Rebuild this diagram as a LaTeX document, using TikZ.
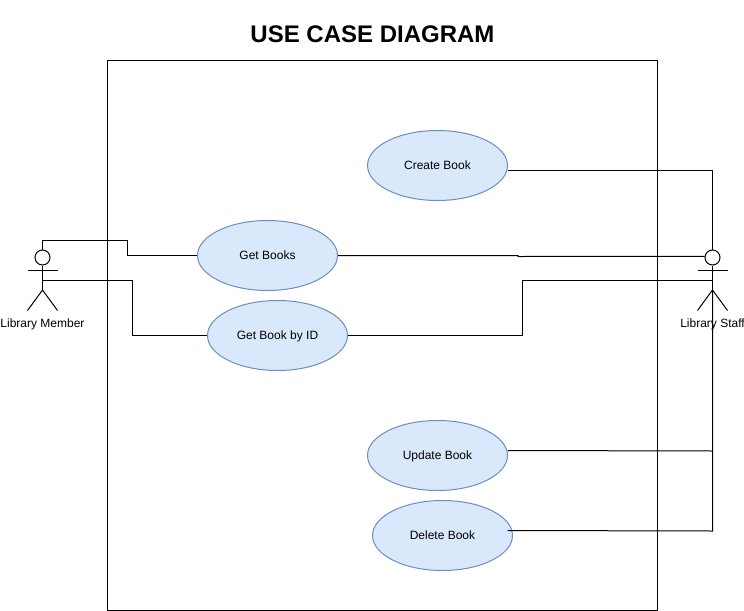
\documentclass[tikz,border=0pt]{standalone}
\usepackage{fontspec}
\setmainfont{Liberation Sans}
\usetikzlibrary{shapes.geometric}

\tikzset{
	usecase/.style={ellipse, draw=usecaseline, fill=usecasefill, line width=0.75pt, minimum width=105pt, minimum height=52.5pt, inner sep=0pt, text height=8pt, text depth=2pt, font=\fontsize{9pt}{11pt}\selectfont},
	actorhead/.style={circle, draw, fill=white, line width=0.75pt, minimum size=11.25pt, inner sep=0pt},
	actorname/.style={text height=8pt, text depth=2pt, font=\fontsize{9pt}{11pt}\selectfont},
	link/.style={line width=0.75pt}
}
\definecolor{usecasefill}{HTML}{DAE8FC}
\definecolor{usecaseline}{HTML}{6C8EBF}

\begin{document}
\begin{tikzpicture}[x=0.75pt, y=-0.75pt]
	\useasboundingbox (0,0) rectangle (744,611);
	\node [font=\bfseries\fontsize{18pt}{22pt}\selectfont] (title) at (372.5,34) {USE CASE DIAGRAM};
	\draw [link] (107.5,60.5) rectangle (657.5,610.5);

	\node [usecase] (create) at (437.5,165.5) {Create Book};
	\node [usecase] (getall) at (267.5,255.5) {Get Books};
	\node [usecase] (getone) at (277.5,335.5) {Get Book by ID};
	\node [usecase] (update) at (437.5,455.5) {Update Book};
	\node [usecase] (delete) at (442.5,535.5) {Delete Book};

	\node [actorhead] (memberhead) at (42.5,257.5) {};
	\coordinate (memberhip) at (42.5,290);
	\coordinate (memberarmL) at (27.5,270.5);
	\coordinate (memberarmR) at (57.5,270.5);
	\coordinate (memberlegL) at (27.5,310.5);
	\coordinate (memberlegR) at (57.5,310.5);
	\coordinate (memberwaist) at (42.5,280.5);
	\draw [link] (memberhead.south) -- (memberhip);
	\draw [link] (memberarmL) -- (memberarmR);
	\draw [link] (memberlegL) -- (memberhip) -- (memberlegR);
	\node [actorname] (membername) at (42.5,323.5) {Library Member};

	\node [actorhead] (staffhead) at (712.5,257.5) {};
	\coordinate (staffhip) at (712.5,290);
	\coordinate (staffarmL) at (697.5,270.5);
	\coordinate (staffarmR) at (727.5,270.5);
	\coordinate (stafflegL) at (697.5,310.5);
	\coordinate (stafflegR) at (727.5,310.5);
	\coordinate (staffwaist) at (712.5,280.5);
	\draw [link] (staffhead.south) -- (staffhip);
	\draw [link] (staffarmL) -- (staffarmR);
	\draw [link] (stafflegL) -- (staffhip) -- (stafflegR);
	\node [actorname] (staffname) at (712.5,323.5) {Library Staff};

	\coordinate (m1) at (42.5,240.5);
	\coordinate (m2) at (127.5,240.5);
	\coordinate (m3) at (127.5,255.5);
	\draw [link] (memberhead.north) -- (m1) -- (m2) -- (m3) -- (getall.west);
	\coordinate (m4) at (132.5,280.5);
	\coordinate (m5) at (132.5,335.5);
	\draw [link] (memberwaist) -- (m4) -- (m5) -- (getone.west);

	\coordinate (s1) at (507.5,170.5);
	\coordinate (s2) at (712.5,170.5);
	\draw [link] (s1) -- (s2) -- (staffhead.north);
	\coordinate (s3) at (518,255.5);
	\coordinate (s4) at (518,256.5);
	\draw [link] (getall.east) -- (s3) -- (s4) -- (staffhead.172);
	\coordinate (s5) at (522.5,335.5);
	\coordinate (s6) at (522.5,280.5);
	\draw [link] (getone.east) -- (s5) -- (s6) -- (staffwaist);
	\coordinate (s7) at (507.5,450.5);
	\coordinate (s8) at (712.5,451);
	\draw [link] (s7) -- (s8);
	\coordinate (s9) at (507.5,530.5);
	\coordinate (s10) at (712.5,531);
	\draw [link] (s9) -- (s10) -- (staffhip);
\end{tikzpicture}
\end{document}
